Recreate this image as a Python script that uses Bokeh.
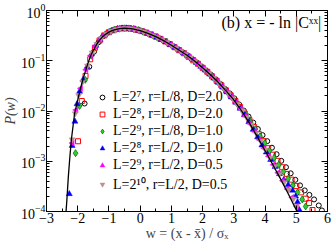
from math import pi
from bokeh.plotting import figure
from bokeh.models import (Legend, LegendItem, Label, LinearAxis, LogAxis,
                          SingleIntervalTicker, LogTicker)
from bokeh.embed import file_html
from bokeh.resources import INLINE

# ---------------- data ----------------
curve_w = [-2.42, -2.35, -2.30, -2.25, -2.20, -2.10, -2.00, -1.90, -1.80, -1.70,
           -1.60, -1.50, -1.40, -1.30, -1.20, -1.10, -1.00, -0.90, -0.80, -0.70,
           -0.60, -0.50, -0.40, -0.30, -0.20, -0.10, 0.00, 0.25, 0.50, 0.75,
           1.00, 1.25, 1.50, 1.75, 2.00, 2.25, 2.50, 2.75, 3.00, 3.25,
           3.50, 3.75, 4.00, 4.25, 4.50, 4.75, 5.00, 5.05]
curve_p = [4.0e-5, 1.6e-4, 5.0e-4, 1.26e-3, 2.8e-3, 8.9e-3, 0.0166, 0.030, 0.050, 0.079,
           0.120, 0.162, 0.209, 0.257, 0.302, 0.339, 0.372, 0.398, 0.417, 0.432,
           0.439, 0.443, 0.442, 0.437, 0.427, 0.412, 0.398, 0.351, 0.302, 0.251,
           0.204, 0.162, 0.129, 0.0977, 0.0724, 0.0525, 0.0372, 0.0251, 0.0166, 0.0100,
           0.00575, 0.00309, 0.00162, 8.5e-4, 4.4e-4, 2.2e-4, 1.07e-4, 9.0e-5]

s1_w = [-1.78, -1.63, -1.48, -1.33, -1.18, -1.03, -0.88, -0.73, -0.58, -0.43, -0.28, -0.13,
        0.02, 0.17, 0.32, 0.47, 0.62, 0.77, 0.92, 1.07, 1.22, 1.37, 1.52, 1.67, 1.82, 1.97,
        2.12, 2.27, 2.42, 2.57, 2.72, 2.87, 3.02, 3.17, 3.32, 3.47, 3.62, 3.77, 3.92, 4.07,
        4.22, 4.37, 4.52, 4.67, 4.82, 4.97, 5.12, 5.27, 5.42, 5.57, 5.72, 5.82]
s1_p = [0.0141, 0.076, 0.151, 0.234, 0.309, 0.363, 0.401, 0.427, 0.442, 0.444, 0.435, 0.417,
        0.398, 0.367, 0.337, 0.309, 0.279, 0.248, 0.219, 0.193, 0.168, 0.146, 0.127, 0.108,
        0.0912, 0.0759, 0.0631, 0.0525, 0.0427, 0.0347, 0.0275, 0.0224, 0.0178, 0.0135,
        0.0102, 0.00776, 0.00589, 0.00437, 0.00331, 0.00251, 0.00186, 0.00138, 0.00102,
        7.6e-4, 5.75e-4, 4.27e-4, 3.31e-4, 2.63e-4, 2.14e-4, 1.74e-4, 1.32e-4, 1.05e-4]

s2_w = [-1.99, -1.87, -1.75, -1.60, -1.45, -1.30, -1.15, -1.00, -0.85, -0.70, -0.55, -0.40,
        -0.25, -0.10, 0.05, 0.20, 0.35, 0.50, 0.65, 0.80, 0.95, 1.10, 1.25, 1.40, 1.55, 1.70,
        1.85, 2.00, 2.15, 2.30, 2.45, 2.60, 2.75, 2.90, 3.05, 3.20, 3.35, 3.50, 3.65, 3.80,
        3.95, 4.10, 4.25, 4.40, 4.55, 4.70, 4.85, 5.00, 5.15, 5.30, 5.41, 5.52]
s2_p = [2.5e-3, 0.0158, 0.050, 0.107, 0.182, 0.254, 0.320, 0.370, 0.407, 0.430, 0.442, 0.441,
        0.432, 0.412, 0.389, 0.360, 0.331, 0.302, 0.272, 0.243, 0.214, 0.186, 0.162, 0.141,
        0.120, 0.102, 0.0871, 0.0724, 0.0603, 0.049, 0.0398, 0.0324, 0.0257, 0.0204, 0.0158,
        0.0120, 0.0089, 0.0066, 0.00479, 0.00347, 0.00251, 0.00182, 0.00135, 0.00102,
        7.6e-4, 5.6e-4, 4.3e-4, 3.2e-4, 2.4e-4, 1.8e-4, 1.48e-4, 1.07e-4]

s3_w = [-2.07, -1.94, -1.76, -1.56, -1.41, -1.26, -1.11, -0.96, -0.81, -0.66, -0.51, -0.36,
        -0.21, -0.06, 0.09, 0.24, 0.39, 0.54, 0.69, 0.84, 0.99, 1.14, 1.29, 1.44, 1.59, 1.74,
        1.89, 2.04, 2.19, 2.34, 2.49, 2.64, 2.79, 2.94, 3.09, 3.24, 3.39, 3.54, 3.69, 3.84,
        3.99, 4.14, 4.29, 4.44, 4.59, 4.74, 4.89, 5.04, 5.19, 5.30]
s3_p = [1.45e-3, 0.0126, 0.0417, 0.126, 0.200, 0.275, 0.335, 0.382, 0.415, 0.435, 0.443, 0.440,
        0.428, 0.407, 0.380, 0.352, 0.324, 0.294, 0.265, 0.236, 0.207, 0.181, 0.158, 0.137,
        0.117, 0.0993, 0.0832, 0.0692, 0.0569, 0.0465, 0.0376, 0.0302, 0.024, 0.0186, 0.0145,
        0.011, 0.00813, 0.00603, 0.00437, 0.00316, 0.00229, 0.00162, 0.00117, 8.5e-4,
        6.2e-4, 4.5e-4, 3.3e-4, 2.4e-4, 1.74e-4, 1.26e-4]

s4_w = [-2.27, -2.18, -2.09, -2.02, -1.94, -1.83, -1.70, -1.56, -1.42, -1.28, -1.14, -1.00,
        -0.86, -0.72, -0.58, -0.44, -0.30, -0.16, -0.02, 0.12, 0.26, 0.40, 0.54, 0.68, 0.82,
        0.96, 1.10, 1.24, 1.38, 1.52, 1.66, 1.80, 1.94, 2.08, 2.22, 2.36, 2.50, 2.64, 2.78,
        2.92, 3.06, 3.20, 3.34, 3.48, 3.62, 3.76, 3.90, 4.04, 4.18, 4.32, 4.46, 4.60, 4.74,
        4.88, 4.98, 5.04, 5.10]
s4_p = [2.24e-4, 2.04e-3, 6.2e-3, 0.0138, 0.0245, 0.0417, 0.0759, 0.135, 0.200, 0.263, 0.324,
        0.372, 0.407, 0.432, 0.442, 0.444, 0.437, 0.422, 0.400, 0.373, 0.347, 0.319, 0.292,
        0.264, 0.237, 0.210, 0.186, 0.163, 0.143, 0.124, 0.107, 0.0912, 0.0767, 0.0646,
        0.0537, 0.0447, 0.0367, 0.0295, 0.0237, 0.0188, 0.0148, 0.0112, 0.0083, 0.00603,
        0.00427, 0.00302, 0.00209, 0.00151, 0.00107, 7.8e-4, 5.6e-4, 4.27e-4, 3.39e-4,
        2.63e-4, 2.0e-4, 1.55e-4, 1.07e-4]

s5_w = [-2.17, -2.05, -1.90, -1.73, -1.58, -1.43, -1.28, -1.13, -0.98, -0.83, -0.68, -0.53,
        -0.38, -0.23, -0.08, 0.07, 0.22, 0.37, 0.52, 0.67, 0.82, 0.97, 1.12, 1.27, 1.42, 1.57,
        1.72, 1.87, 2.02, 2.17, 2.32, 2.47, 2.62, 2.77, 2.92, 3.07, 3.22, 3.37, 3.52, 3.67,
        3.82, 3.97, 4.12, 4.27, 4.42, 4.57, 4.72, 4.87, 5.02]
s5_p = [2.3e-3, 0.0105, 0.0282, 0.066, 0.126, 0.195, 0.263, 0.327, 0.376, 0.412, 0.435, 0.444,
        0.442, 0.431, 0.409, 0.385, 0.356, 0.327, 0.299, 0.268, 0.237, 0.209, 0.183, 0.159,
        0.139, 0.119, 0.101, 0.0847, 0.0705, 0.0582, 0.0473, 0.0385, 0.0305, 0.0243, 0.0191,
        0.0146, 0.011, 0.00794, 0.00562, 0.00389, 0.00269, 0.00182, 0.00126, 8.5e-4, 5.9e-4,
        4.1e-4, 2.8e-4, 1.9e-4, 1.26e-4]

s6_w = [-2.18, -2.08, -1.97, -1.84, -1.69, -1.54, -1.39, -1.24, -1.09, -0.94, -0.79, -0.64,
        -0.49, -0.34, -0.19, -0.04, 0.11, 0.26, 0.41, 0.56, 0.71, 0.86, 1.01, 1.16, 1.31, 1.46,
        1.61, 1.76, 1.91, 2.06, 2.21, 2.36, 2.51, 2.66, 2.81, 2.96, 3.11, 3.26, 3.41, 3.56,
        3.71, 3.86, 4.01, 4.16, 4.31, 4.46, 4.61, 4.76, 4.91, 5.01]
s6_p = [2.7e-3, 8.9e-3, 0.0204, 0.038, 0.0794, 0.145, 0.214, 0.282, 0.340, 0.389, 0.419, 0.437,
        0.443, 0.439, 0.425, 0.405, 0.376, 0.348, 0.320, 0.290, 0.260, 0.230, 0.203, 0.177,
        0.155, 0.134, 0.115, 0.0973, 0.0813, 0.0676, 0.0556, 0.0452, 0.0363, 0.0288, 0.0229,
        0.0178, 0.0136, 0.0102, 0.00741, 0.00525, 0.00363, 0.00251, 0.0017, 0.00117, 7.9e-4,
        5.5e-4, 3.8e-4, 2.7e-4, 1.8e-4, 1.26e-4]

labels = ["L=2\u2077, r=L/8, D=2.0",
          "L=2\u2078, r=L/8, D=2.0",
          "L=2\u2079, r=L/8, D=1.0",
          "L=2\u2078, r=L/2, D=1.0",
          "L=2\u2079, r=L/2, D=0.5",
          "L=2\u00b9\u2070, r=L/2, D=0.5"]

x_tick_step = 1
title_text = "(b) x = - ln |C\u02e3\u02e3|"
x_label = "w = (x - x\u0304) / \u03c3\u2093"
y_label = "P(w)"

for a, b in [(curve_w, curve_p), (s1_w, s1_p), (s2_w, s2_p), (s3_w, s3_p),
             (s4_w, s4_p), (s5_w, s5_p), (s6_w, s6_p)]:
    assert len(a) == len(b), (len(a), len(b))

# ---------------- figure ----------------
SERIF = "Liberation Serif"
p = figure(width=332, height=243, x_range=(-3, 6), y_range=(1e-4, 1),
           y_axis_type="log", output_backend="svg", toolbar_location=None,
           min_border_left=39, min_border_right=5, min_border_top=10, min_border_bottom=32)
p.grid.visible = False
p.outline_line_color = "black"
p.outline_line_width = 1
p.background_fill_color = "white"
p.border_fill_color = "white"

p.xaxis.ticker = SingleIntervalTicker(interval=x_tick_step, num_minor_ticks=2)
p.yaxis.ticker = LogTicker(num_minor_ticks=10)


def style_axis(ax):
    ax.axis_line_color = "black"
    ax.major_tick_line_color = "black"
    ax.minor_tick_line_color = "black"
    ax.major_tick_in = 6
    ax.major_tick_out = 0
    ax.minor_tick_in = 3
    ax.minor_tick_out = 0
    ax.major_label_text_font = SERIF
    ax.major_label_text_font_size = "14px"
    ax.major_label_text_color = "black"
    ax.major_label_standoff = 2


for ax in p.xaxis + p.yaxis:
    style_axis(ax)

p.xaxis.axis_label = x_label
p.xaxis.axis_label_text_font = SERIF
p.xaxis.axis_label_text_font_size = "14px"
p.xaxis.axis_label_text_font_style = "normal"
p.xaxis.axis_label_standoff = 0
p.xaxis.major_label_standoff = 1

p.yaxis.axis_label = y_label
p.yaxis.axis_label_text_font = SERIF
p.yaxis.axis_label_text_font_size = "14px"
p.yaxis.axis_label_text_font_style = "italic"
p.yaxis.axis_label_standoff = 0
p.yaxis.major_label_standoff = 1

top_ax = LinearAxis(ticker=SingleIntervalTicker(interval=x_tick_step, num_minor_ticks=2))
style_axis(top_ax)
top_ax.major_label_text_font_size = "1px"
top_ax.major_label_text_color = None
top_ax.major_label_standoff = 0
p.add_layout(top_ax, "above")

right_ax = LogAxis(ticker=LogTicker(num_minor_ticks=10))
style_axis(right_ax)
right_ax.major_label_text_font_size = "1px"
right_ax.major_label_text_color = None
right_ax.major_label_standoff = 0
p.add_layout(right_ax, "right")

# ---------------- data glyphs ----------------
r1 = p.scatter(s1_w, s1_p, marker="circle", size=5, line_color="black",
               fill_color=None, line_width=1)
r2 = p.scatter(s2_w, s2_p, marker="square", size=5, line_color="#ff0000",
               fill_color=None, line_width=1)
r3 = p.scatter(s3_w, s3_p, marker="diamond", size=7, line_color="#007a00",
               fill_color="#33cc33", line_width=0.8)
r4 = p.scatter(s4_w, s4_p, marker="triangle", size=6, line_color="#0000ff",
               fill_color="#0000ff", line_width=0.5)
r5 = p.scatter(s5_w, s5_p, marker="triangle", angle=pi / 2, size=6, line_color="#ff00ff",
               fill_color="#ff00ff", line_width=0.5)
r6 = p.scatter(s6_w, s6_p, marker="inverted_triangle", size=6, line_color="#bc8f8f",
               fill_color="#bc8f8f", line_width=0.5)
p.line(curve_w, curve_p, line_color="black", line_width=1.3)

legend = Legend(items=[LegendItem(label=lab, renderers=[r])
                       for lab, r in zip(labels, [r1, r2, r3, r4, r5, r6])],
                location=(50, 18))
legend.border_line_color = None
legend.background_fill_alpha = 0
legend.padding = 0
legend.margin = 0
legend.spacing = 1
legend.glyph_width = 12
legend.glyph_height = 16
legend.label_height = 16
legend.label_standoff = 5
legend.label_text_font = SERIF
legend.label_text_font_size = "14px"
legend.label_text_color = "black"
p.add_layout(legend)

p.add_layout(Label(x=5.8, y=0.58, text=title_text, text_align="right",
                   text_baseline="middle", text_font=SERIF, text_font_size="16px",
                   text_color="black"))

html = file_html(p, INLINE)
html = html.replace("<head>", "<head><style>html,body{overflow:hidden;}</style>", 1)
open("out.html", "w").write(html)
